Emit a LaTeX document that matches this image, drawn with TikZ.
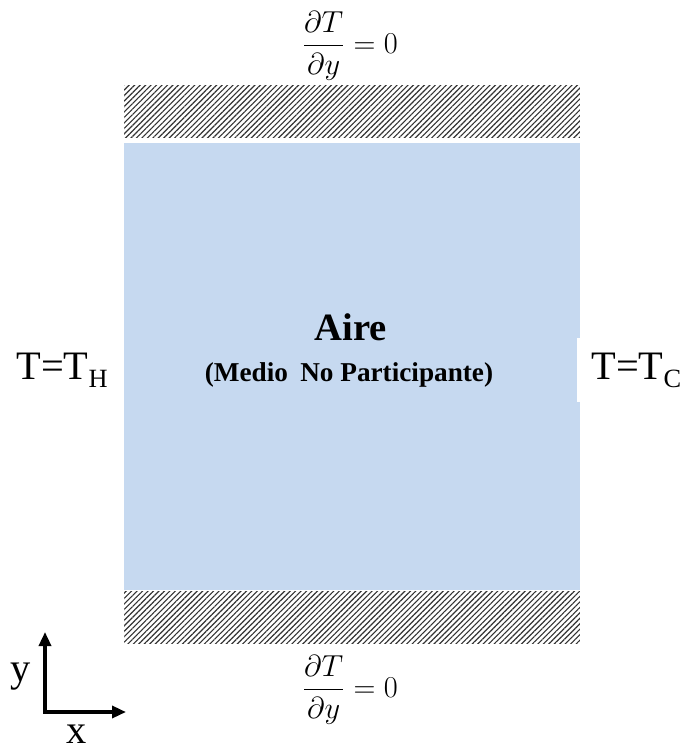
\documentclass[tikz,border=0pt]{standalone}
\usepackage{amsmath}
\usepackage{fontspec}
\setmainfont{Liberation Serif}
\usetikzlibrary{patterns.meta, arrows.meta, positioning}
\definecolor{airblue}{RGB}{198,217,240}

\begin{document}
\begin{tikzpicture}[x=0.02cm, y=-0.02cm,
    wall/.style={rectangle, inner sep=0pt, minimum width=9.12cm, minimum height=1.04cm, pattern={Lines[angle=45, distance=2.2pt, line width=0.65pt]}, pattern color=black!80},
    bc/.style={font=\fontsize{23}{26}\selectfont, inner sep=0pt},
    grad/.style={font=\fontsize{17}{20}\selectfont, inner sep=0pt},
    arr/.style={-{Triangle[length=0.28cm, width=0.24cm]}, line width=1.9pt}
]
    \useasboundingbox (0,0) rectangle (682,750);

    % Air domain
    \node[fill=airblue, inner sep=0pt, minimum width=9.12cm, minimum height=8.94cm] (air) at (352,366.5) {};
    \node[font=\bfseries\fontsize{22}{26}\selectfont, inner sep=0pt] (aire) at (351,327) {Aire};
    \node[font=\bfseries\fontsize{15.5}{18}\selectfont, inner sep=0pt] (medio) at (349,375) {(Medio\hspace{0.2em} No Participante)};

    % Adiabatic walls
    \node[wall, above=0.1cm of air] (topwall) {};
    \node[wall, below=0.02cm of air] (botwall) {};
    \node[grad] (topbc) at (350,46) {$\dfrac{\partial T}{\partial y}=0$};
    \node[grad] (botbc) at (350,690) {$\dfrac{\partial T}{\partial y}=0$};

    % Isothermal walls
    \node[bc] (hot) at (62,370) {T=T\raisebox{-0.2em}{\fontsize{15}{17}\selectfont H}};
    \node[bc, fill=white, anchor=west, inner xsep=0.28cm, minimum height=1.3cm] (cold) at (577,370) {T=T\raisebox{-0.2em}{\fontsize{15}{17}\selectfont C}};

    % Axes
    \coordinate (origin) at (45,712);
    \coordinate (yend) at (45,632);
    \coordinate (xend) at (126,712);
    \draw[arr] ([xshift=-0.95pt]origin) -- (xend);
    \draw[arr] (origin) -- (yend);
    \node[bc] (ylab) at (21,677) {y};
    \node[bc] (xlab) at (77,734) {x};
\end{tikzpicture}
\end{document}
